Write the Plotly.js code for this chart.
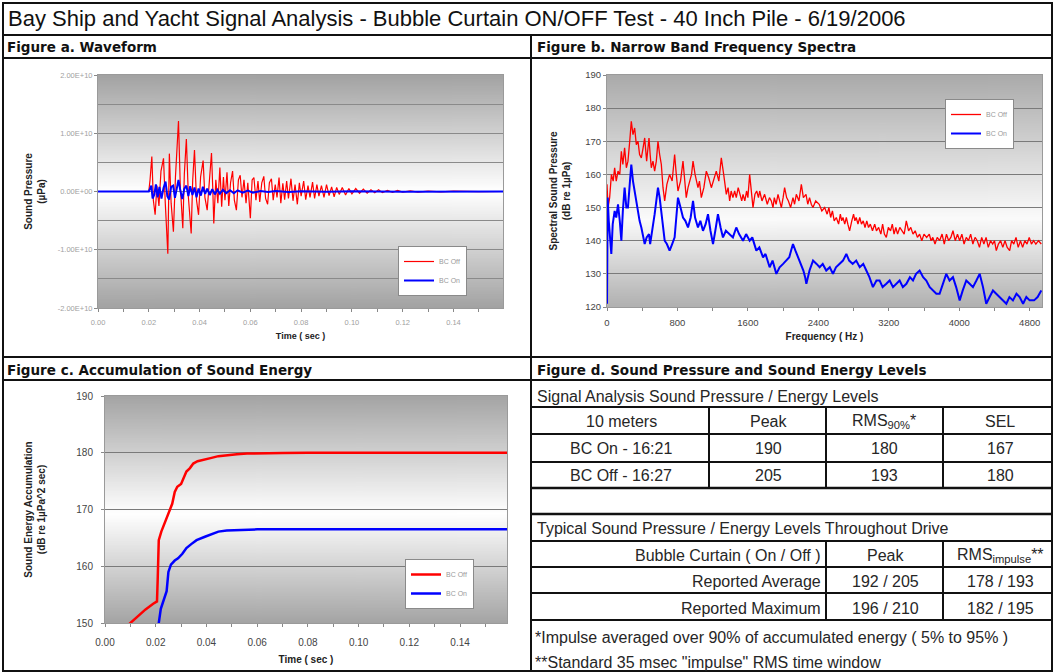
<!DOCTYPE html>
<html><head><meta charset="utf-8">
<script src="https://cdn.plot.ly/plotly-3.0.1.min.js"></script>
<style>html,body{margin:0;padding:0;background:#fff;}#chart{width:1054px;height:672px;}</style>
</head><body><div id="chart"></div>
<script>
// ---------- DATA ----------
const mainTitle = 'Bay Ship and Yacht Signal Analysis - Bubble Curtain ON/OFF Test - 40 Inch Pile - 6/19/2006';
const seriesNames = ['BC Off', 'BC On'];

// Figure a: waveform (time in sec, pressure in uPa)
const waveOffT = [0,0.0200,0.0205,0.0212,0.0218,0.0225,0.0232,0.0240,0.0248,0.0258,0.0265,0.0270,0.0275,0.0281,0.0288,0.0297,0.0305,0.0317,0.0324,0.0334,0.0340,0.0348,0.0356,0.0367,0.0373,0.0380,0.0388,0.0396,0.0404,0.0414,0.0421,0.0430,0.0438,0.0447,0.0452,0.0456,0.0464,0.0472,0.0480,0.0487,0.0494,0.0500,0.0508,0.0515,0.0522,0.0530,0.0537,0.0545,0.0553,0.0560,0.0567,0.0575,0.0583,0.0590,0.0600,0.0607,0.0614,0.0622,0.0630,0.0637,0.0645,0.0653,0.0660,0.0668,0.0675,0.0683,0.0690,0.0698,0.0705,0.0713,0.0720,0.0728,0.0735,0.0743,0.0750,0.0760,0.0768,0.0776,0.0785,0.0793,0.0800,0.0810,0.0818,0.0827,0.0835,0.0845,0.0853,0.0862,0.0870,0.0880,0.0890,0.0900,0.0910,0.0920,0.0930,0.0940,0.0950,0.0962,0.0975,0.0988,0.1000,0.1015,0.1030,0.1045,0.1060,0.1075,0.1090,0.1105,0.1120,0.1140,0.1160,0.1180,0.1200,0.1230,0.1260,0.1300,0.1350,0.1400,0.1500,0.1595];
const waveOffP = [0,0,2.0e9,6.0e9,-1.5e9,-4.0e9,1.0e9,-2.5e9,3.5e9,5.7e9,-2.0e9,-5.5e9,-10.7e9,6.5e9,-2.0e9,-6.9e9,2.5e9,12.1e9,1.0e9,-6.3e9,3.0e9,9.0e9,-1.0e9,-7.2e9,2.0e9,7.1e9,-1.5e9,-4.0e9,2.5e9,5.3e9,-1.0e9,-3.2e9,2.0e9,6.6e9,0.5e9,-5.5e9,2.0e9,-2.0e9,4.1e9,-2.6e9,2.5e9,-1.5e9,3.3e9,-2.5e9,1.5e9,3.5e9,-1.5e9,-3.2e9,2.0e9,2.8e9,-1.0e9,2.0e9,-2.0e9,1.5e9,-4.6e9,2.0e9,2.4e9,-1.5e9,1.8e9,-1.8e9,1.5e9,2.6e9,-1.2e9,-2.2e9,1.5e9,2.2e9,-1.5e9,1.2e9,-1.0e9,2.4e9,-2.0e9,1.4e9,-1.4e9,1.8e9,-1.2e9,2.2e9,-1.6e9,1.2e9,-2.2e9,1.5e9,-0.8e9,1.8e9,-1.4e9,1.0e9,-1.0e9,1.6e9,-1.2e9,1.2e9,-0.8e9,1.0e9,-1.0e9,1.2e9,-0.7e9,0.8e9,-0.9e9,0.7e9,-0.5e9,0.7e9,-0.6e9,0.5e9,-0.4e9,0.5e9,-0.3e9,0.4e9,-0.3e9,0.3e9,-0.2e9,0.3e9,-0.2e9,0.2e9,-0.15e9,0.2e9,-0.1e9,0.1e9,-0.1e9,0.08e9,-0.05e9,0.05e9,-0.03e9,0];
const waveOnT = [0,0.0200,0.0205,0.0210,0.0215,0.0222,0.0228,0.0235,0.0242,0.0250,0.0258,0.0266,0.0273,0.0280,0.0288,0.0296,0.0303,0.0310,0.0317,0.0324,0.0332,0.0340,0.0348,0.0356,0.0363,0.0372,0.0380,0.0388,0.0396,0.0405,0.0413,0.0422,0.0430,0.0440,0.0450,0.0460,0.0470,0.0480,0.0492,0.0505,0.0520,0.0535,0.0550,0.0570,0.0590,0.0610,0.0640,0.0670,0.0700,0.0750,0.0800,0.0900,0.1000,0.1200,0.1400,0.1595];
const waveOnP = [0,0,0.5e9,1.0e9,-1.2e9,-0.5e9,1.2e9,-1.0e9,0.8e9,-1.2e9,0.6e9,1.7e9,-0.8e9,-1.4e9,0.8e9,1.0e9,-1.1e9,0.6e9,2.0e9,0.2e9,-1.3e9,0.5e9,1.0e9,-0.8e9,0.9e9,-0.6e9,0.7e9,-1.0e9,0.5e9,-0.7e9,0.8e9,-0.4e9,0.5e9,-0.6e9,0.4e9,-0.5e9,0.3e9,-0.4e9,0.3e9,-0.3e9,0.2e9,-0.3e9,0.2e9,-0.2e9,0.15e9,-0.2e9,0.1e9,-0.1e9,0.1e9,-0.08e9,0.05e9,-0.05e9,0.04e9,-0.03e9,0.02e9,0];
const waveTickVals = [-2e10,-1e10,0,1e10,2e10];
const waveTickText = ['-2.00E+10','-1.00E+10','0.00E+00','1.00E+10','2.00E+10'];

// Figure b: narrow band spectra [Hz, dB re 1uPa]
const specOff = [[0,157],[12,150],[30,153],[50,160],[70,158],[87,162],[105,158],[125,161],[145,160],[163,167],[180,163],[200,168],[220,162],[238,164],[258,170],[276,176],[295,172],[314,174],[333,169],[352,170],[370,166],[390,165],[410,168],[428,171],[450,164],[477,171],[490,166],[503,162],[522,164],[541,161],[560,164],[579,170],[598,166],[617,163],[636,156],[655,152],[680,157],[711,160],[740,158],[768,166],[787,160],[806,155],[835,158],[863,164],[880,159],[900,153],[920,156],[940,158],[960,160],[977,164],[1000,160],[1033,156],[1050,158],[1071,153],[1100,156],[1128,161],[1155,159],[1185,156],[1210,158],[1241,161],[1270,158],[1298,165],[1325,160],[1355,154],[1375,156],[1393,152],[1410,155],[1430,153],[1450,155],[1468,153],[1490,156],[1510,154],[1530,152],[1545,154],[1565,152],[1585,155],[1600,153],[1620,160],[1640,155],[1658,150],[1680,154],[1700,155],[1720,153],[1734,155],[1760,152],[1790,154],[1820,151],[1845,153],[1866,152],[1885,150],[1900,153],[1920,151],[1942,154],[1960,152],[1980,150],[2000,153],[2017,156],[2040,153],[2060,152],[2085,150],[2112,153],[2130,151],[2150,154],[2180,152],[2207,157],[2230,153],[2260,154],[2280,151],[2300,153],[2320,151],[2339,150],[2370,152],[2410,151],[2440,149],[2472,150],[2500,148],[2520,150],[2540,147],[2560,149],[2580,146],[2604,147],[2630,145],[2650,148],[2665,146],[2680,147],[2700,145],[2718,147],[2735,145],[2755,143],[2780,146],[2800,148],[2815,146],[2830,147],[2850,145],[2870,147],[2890,145],[2910,146],[2930,144],[2950,146],[2970,144],[2990,145],[3015,143],[3040,145],[3060,143],[3085,144],[3110,142],[3130,145],[3150,142],[3172,141],[3195,144],[3220,143],[3240,145],[3260,142],[3280,144],[3300,142],[3325,144],[3350,143],[3375,142],[3399,146],[3425,143],[3450,144],[3475,142],[3500,143],[3525,141],[3550,142],[3575,140],[3600,142],[3630,141],[3660,142],[3680,140],[3700,141],[3725,139],[3750,141],[3777,140],[3805,142],[3830,139],[3855,142],[3880,140],[3905,141],[3929,143],[3955,140],[3980,142],[4005,140],[4030,142],[4055,139],[4080,141],[4105,140],[4130,142],[4155,139],[4180,141],[4205,140],[4230,138],[4255,141],[4280,139],[4305,141],[4330,138],[4355,140],[4380,139],[4400,140],[4421,137],[4445,139],[4470,140],[4495,138],[4520,140],[4545,138],[4573,137],[4595,140],[4620,139],[4645,141],[4670,138],[4695,140],[4720,138],[4745,140],[4770,139],[4795,141],[4820,139],[4845,140],[4870,139],[4900,140],[4932,139]];
const specOn = [[0,121],[8,153],[20,146],[35,140],[49,136],[65,145],[87,149],[105,147],[125,151],[145,146],[163,140],[180,149],[200,156],[220,150],[238,150],[258,157],[276,163],[295,158],[314,155],[333,151],[352,148],[370,146],[390,144],[410,141],[428,139],[450,141],[477,142],[490,139],[503,141],[522,145],[541,148],[560,152],[579,156],[598,153],[617,149],[636,144],[655,140],[680,139],[711,137],[740,139],[768,141],[787,147],[806,153],[835,150],[863,147],[890,146],[920,144],[950,147],[977,152],[1000,147],[1033,144],[1060,146],[1090,143],[1120,145],[1147,148],[1175,143],[1204,139],[1230,143],[1260,148],[1290,144],[1317,141],[1350,143],[1393,142],[1430,141],[1468,144],[1500,142],[1545,140],[1580,142],[1620,140],[1650,141],[1696,137],[1730,138],[1772,135],[1800,136],[1847,132],[1880,134],[1923,130],[1960,132],[2000,133],[2035,134],[2070,135],[2090,137],[2112,139],[2140,137],[2170,135],[2200,133],[2230,131],[2250,129],[2264,127],[2300,131],[2340,134],[2380,133],[2415,132],[2450,133],[2490,131],[2530,132],[2566,130],[2600,132],[2642,133],[2680,134],[2718,136],[2750,134],[2790,133],[2830,134],[2870,132],[2910,133],[2945,131],[2980,129],[3020,126],[3060,128],[3096,128],[3130,126],[3172,127],[3210,128],[3248,126],[3285,127],[3323,128],[3360,126],[3400,127],[3440,129],[3475,128],[3510,130],[3550,131],[3590,129],[3626,128],[3665,126],[3702,125],[3740,124],[3777,124],[3815,127],[3853,130],[3890,128],[3929,129],[3965,126],[4005,122],[4040,125],[4080,128],[4118,127],[4156,126],[4195,128],[4232,130],[4270,126],[4307,121],[4345,123],[4383,125],[4420,124],[4460,123],[4500,122],[4535,121],[4570,123],[4610,122],[4650,124],[4686,123],[4725,121],[4762,123],[4800,122],[4850,122],[4890,123],[4932,125]];

// Figure c: accumulated sound energy (dB re 1uPa^2 sec)
const accOffT = [0.0095,0.0130,0.0160,0.0190,0.0205,0.0208,0.0212,0.0222,0.0235,0.0245,0.0255,0.0265,0.0275,0.0285,0.0300,0.0310,0.0321,0.0335,0.0348,0.0365,0.0388,0.0420,0.0447,0.0480,0.0520,0.0560,0.0600,0.0700,0.0800,0.1000,0.1200,0.1400,0.1585];
const accOffV = [149.8,151.2,152.4,153.4,153.8,158.0,164.6,166.1,167.5,168.5,169.6,171.0,173.1,174.0,174.5,175.5,176.7,177.3,178.1,178.5,178.7,179.1,179.4,179.6,179.75,179.85,179.9,179.95,180.0,180.0,180.0,180.0,180.0];
const accOnT = [0.0210,0.0212,0.0220,0.0230,0.0243,0.0250,0.0260,0.0275,0.0288,0.0305,0.0321,0.0340,0.0361,0.0394,0.0420,0.0447,0.0480,0.0520,0.0600,0.0700,0.0800,0.1000,0.1585];
const accOnV = [145,150,152.5,154.0,155.6,159.0,160.3,161.0,161.4,162.2,163.2,163.9,164.6,165.2,165.7,166.1,166.3,166.4,166.5,166.5,166.5,166.5,166.5];

// Figure d: table
const tableHeader1 = 'Signal Analysis Sound Pressure / Energy Levels';
const table1Cols = ['10 meters','Peak','RMS<sub>90%</sub>*','SEL'];
const table1Rows = [['BC On - 16:21','190','180','167'],['BC Off - 16:27','205','193','180']];
const tableHeader2 = 'Typical Sound Pressure / Energy Levels Throughout Drive';
const table2Cols = ['Bubble Curtain ( On / Off )','Peak','RMS<sub>impulse</sub>**'];
const table2Rows = [['Reported Average','192 / 205','178 / 193'],['Reported Maximum','196 / 210','182 / 195']];
const footnotes = ['*Impulse averaged over 90% of accumulated energy ( 5% to 95% )','**Standard 35 msec "impulse" RMS time window'];

// ---------- LAYOUT HELPERS ----------
const W = 1054, H = 672;
const FONT = '"Liberation Sans", Arial, sans-serif';
const HEAD = '"DejaVu Sans", "Liberation Sans", Arial, sans-serif';
const px = x => x / W;
const py = y => 1 - y / H;
const RED = '#ff0000', BLUE = '#0000ff';

function gradient(stops) {
  const c = document.createElement('canvas');
  c.width = 4; c.height = 256;
  const g = c.getContext('2d');
  const lg = g.createLinearGradient(0, 0, 0, 256);
  stops.forEach(s => lg.addColorStop(s[0], s[1]));
  g.fillStyle = lg; g.fillRect(0, 0, 4, 256);
  return c.toDataURL();
}
function bgImage(xr, yr, stops) {
  return {source: gradient(stops), xref: xr + ' domain', yref: yr + ' domain', x: 0, y: 1,
    sizex: 1, sizey: 1, xanchor: 'left', yanchor: 'top', sizing: 'stretch', layer: 'below'};
}

const traces = [
  {x: waveOffT, y: waveOffP, name: seriesNames[0], type: 'scatter', mode: 'lines', line: {color: RED, width: 1.2}, xaxis: 'x', yaxis: 'y', legend: 'legend'},
  {x: waveOnT, y: waveOnP, name: seriesNames[1], type: 'scatter', mode: 'lines', line: {color: BLUE, width: 2}, xaxis: 'x', yaxis: 'y', legend: 'legend'},
  {x: specOff.map(d => d[0]), y: specOff.map(d => d[1]), name: seriesNames[0], type: 'scatter', mode: 'lines', line: {color: RED, width: 1.3}, xaxis: 'x2', yaxis: 'y2', legend: 'legend2'},
  {x: specOn.map(d => d[0]), y: specOn.map(d => d[1]), name: seriesNames[1], type: 'scatter', mode: 'lines', line: {color: BLUE, width: 2}, xaxis: 'x2', yaxis: 'y2', legend: 'legend2'},
  {x: accOffT, y: accOffV, name: seriesNames[0], type: 'scatter', mode: 'lines', line: {color: RED, width: 2.5}, xaxis: 'x3', yaxis: 'y3', legend: 'legend3'},
  {x: accOnT, y: accOnV, name: seriesNames[1], type: 'scatter', mode: 'lines', line: {color: BLUE, width: 2.5}, xaxis: 'x3', yaxis: 'y3', legend: 'legend3'}
];

const axBase = {showline: true, linecolor: '#9a9a9a', linewidth: 1, mirror: true, zeroline: false,
  ticks: 'outside', ticklen: 3, tickcolor: '#888', automargin: false};

function xTime(domain, anchor, xmax, fontSize, fontColor, labStand, titleSize, titleStand) {
  return Object.assign({}, axBase, {domain: domain, anchor: anchor, range: [0, xmax], dtick: 0.02, tick0: 0,
    tickformat: '.2f', showgrid: false, ticklabelstandoff: labStand,
    minor: {dtick: 0.01, ticks: 'outside', ticklen: 3, tickcolor: '#888', showgrid: false},
    tickfont: {family: FONT, size: fontSize, color: fontColor},
    title: {text: '<b>Time ( sec )</b>', font: {family: FONT, size: titleSize, color: '#222'}, standoff: titleStand}});
}

const layout = {
  width: W, height: H, margin: {l: 0, r: 0, t: 0, b: 0},
  paper_bgcolor: '#ffffff', plot_bgcolor: 'rgba(0,0,0,0)',
  font: {family: FONT, color: '#222'},
  showlegend: true,
  xaxis: xTime([px(98), px(503)], 'y', 0.1595, 7.5, '#a0a0a0', 4, 9, 6),
  yaxis: Object.assign({}, axBase, {domain: [py(308), py(75)], anchor: 'x', range: [-2e10, 2e10],
    tickvals: waveTickVals, ticktext: waveTickText, showgrid: true, gridcolor: '#8a8a8a', gridwidth: 1,
    minor: {dtick: 5e9, tick0: 0, showgrid: true, gridcolor: '#8a8a8a', gridwidth: 1, ticks: ''},
    tickfont: {family: FONT, size: 7.5, color: '#a0a0a0'},
    title: {text: '<b>Sound Pressure<br>(µPa)</b>', font: {family: FONT, size: 10, color: '#222'}, standoff: 10}}),
  xaxis2: Object.assign({}, axBase, {domain: [px(607), px(1042)], anchor: 'y2', range: [0, 4940], dtick: 800, tick0: 0,
    showgrid: false, ticklabelstandoff: 4, minor: {dtick: 400, ticks: 'outside', ticklen: 3, tickcolor: '#888', showgrid: false},
    tickfont: {family: FONT, size: 9.5, color: '#444'},
    title: {text: '<b>Frequency ( Hz )</b>', font: {family: FONT, size: 10, color: '#222'}, standoff: 5}}),
  yaxis2: Object.assign({}, axBase, {domain: [py(307), py(75)], anchor: 'x2', range: [120, 190], dtick: 10,
    showgrid: true, gridcolor: '#7a7a7a', gridwidth: 1,
    tickfont: {family: FONT, size: 9.5, color: '#444'},
    title: {text: '<b>Spectral Sound Pressure<br>(dB re 1µPa)</b>', font: {family: FONT, size: 10, color: '#222'}, standoff: 12}}),
  xaxis3: xTime([px(105), px(507)], 'y3', 0.1585, 10, '#444', 7, 10, 8),
  yaxis3: Object.assign({}, axBase, {domain: [py(623), py(396)], anchor: 'x3', range: [150, 190], dtick: 10,
    showgrid: true, gridcolor: '#7a7a7a', gridwidth: 1, ticklabelstandoff: 6,
    tickfont: {family: FONT, size: 10, color: '#444'},
    title: {text: '<b>Sound Energy Accumulation<br>(dB re 1µPa^2 sec)</b>', font: {family: FONT, size: 10, color: '#222'}, standoff: 28}}),
  legend: {x: px(398), y: py(246), xanchor: 'left', yanchor: 'top', bgcolor: '#ffffff', bordercolor: '#8a8a8a', borderwidth: 1,
    font: {family: FONT, size: 7, color: '#9a9a9a'}, itemwidth: 30, tracegroupgap: 6},
  legend2: {x: px(945), y: py(99), xanchor: 'left', yanchor: 'top', bgcolor: '#ffffff', bordercolor: '#8a8a8a', borderwidth: 1,
    font: {family: FONT, size: 7, color: '#9a9a9a'}, itemwidth: 30},
  legend3: {x: px(405), y: py(559), xanchor: 'left', yanchor: 'top', bgcolor: '#ffffff', bordercolor: '#8a8a8a', borderwidth: 1,
    font: {family: FONT, size: 7, color: '#9a9a9a'}, itemwidth: 30},
  images: [
    bgImage('x', 'y', [[0, '#a2a2a2'], [0.5, '#ffffff'], [1, '#a2a2a2']]),
    bgImage('x2', 'y2', [[0, '#aaaaaa'], [0.62, '#fbfbfb'], [1, '#b0b0b0']]),
    bgImage('x3', 'y3', [[0, '#a4a4a4'], [0.52, '#ffffff'], [1, '#a4a4a4']])
  ],
  shapes: [],
  annotations: []
};

// ---------- FRAME LINES ----------
function hline(y, x0, x1, w) { layout.shapes.push({type: 'line', xref: 'paper', yref: 'paper', x0: px(x0), x1: px(x1), y0: py(y), y1: py(y), line: {color: '#111', width: w || 2}}); }
function vline(x, y0, y1, w) { layout.shapes.push({type: 'line', xref: 'paper', yref: 'paper', x0: px(x), x1: px(x), y0: py(y0), y1: py(y1), line: {color: '#111', width: w || 2}}); }
layout.shapes.push({type: 'rect', xref: 'paper', yref: 'paper', x0: px(3), x1: px(1052), y0: py(671), y1: py(3), line: {color: '#111', width: 2}});
hline(35, 3, 1052); hline(58, 3, 1052); hline(357, 3, 1052); hline(380, 3, 1052);
vline(531, 35, 671);
[407, 434, 462, 488, 514, 541, 567, 593, 620].forEach(y => hline(y, 531, 1052, (y === 488 || y === 514) ? 2.5 : 2));
[709, 826, 943].forEach(x => vline(x, 407, 488));
[826, 943].forEach(x => vline(x, 541, 620));

// ---------- TEXT ----------
function txt(t, x, y, o) {
  o = o || {};
  layout.annotations.push({text: t, xref: 'paper', yref: 'paper', x: px(x), y: py(y), showarrow: false,
    xanchor: o.xa || 'left', yanchor: 'middle',
    font: {family: o.family || FONT, size: o.size || 16, color: o.color || '#262626'}});
}
txt(mainTitle, 6, 18, {size: 22, color: '#111'});
const headOpt = {size: 13.5, color: '#111', family: HEAD};
txt('<b>Figure a. Waveform</b>', 5, 47, headOpt);
txt('<b>Figure b. Narrow Band Frequency Spectra</b>', 535, 47, headOpt);
txt('<b>Figure c. Accumulation of Sound Energy</b>', 5, 370, headOpt);
txt('<b>Figure d. Sound Pressure and Sound Energy Levels</b>', 535, 370, headOpt);
txt(tableHeader1, 535, 396);
const c1x = [621, 768, 884, 1000];
table1Cols.forEach((t, i) => txt(t, c1x[i], 421, {xa: 'center'}));
table1Rows.forEach((r, j) => r.forEach((t, i) => txt(t, c1x[i], [448, 475][j], {xa: 'center'})));
txt(tableHeader2, 535, 528);
const c2x = [823, 885, 1000];
table2Cols.forEach((t, i) => txt(t, c2x[i], 555, {xa: i === 0 ? 'right' : 'center'}));
table2Rows.forEach((r, j) => r.forEach((t, i) => txt(t, c2x[i], [581, 608][j], {xa: i === 0 ? 'right' : 'center'})));
txt(footnotes[0], 533, 637);
txt(footnotes[1], 533, 662);

Plotly.newPlot('chart', traces, layout, {displayModeBar: false, staticPlot: true});
</script>
</body></html>
